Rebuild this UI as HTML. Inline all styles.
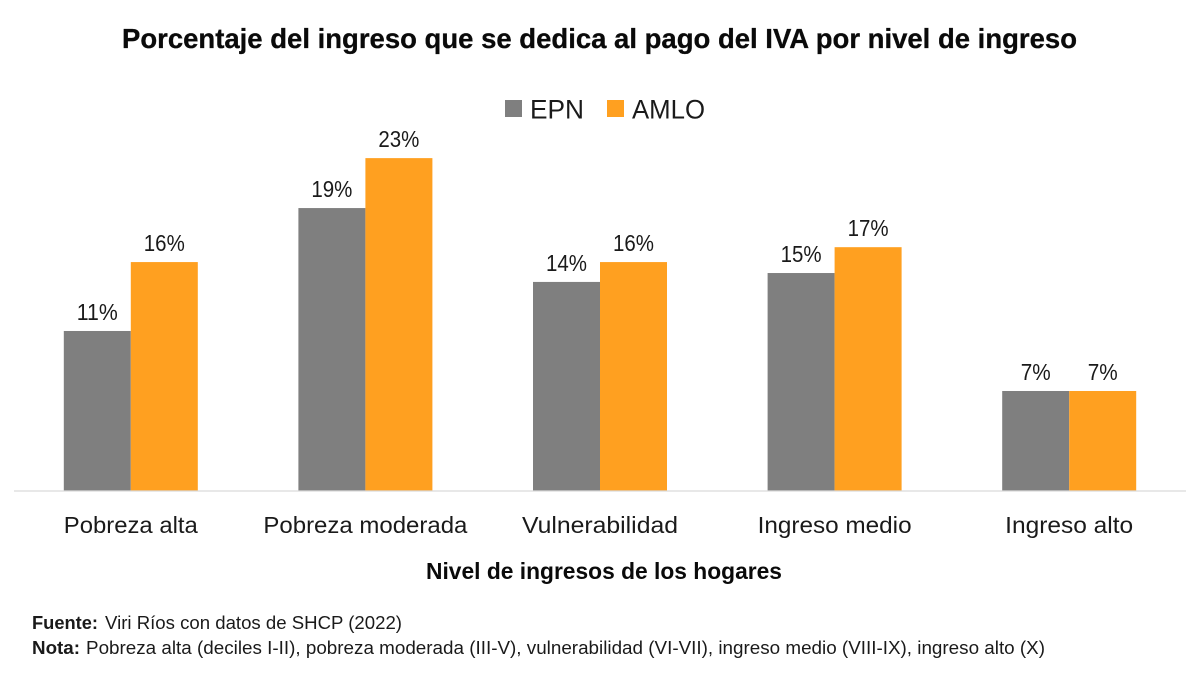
<!DOCTYPE html>
<html lang="es">
<head>
<meta charset="utf-8">
<title>Porcentaje del ingreso que se dedica al pago del IVA</title>
<style>
html,body{margin:0;padding:0;background:#fff;width:1200px;height:675px;overflow:hidden}
svg{display:block}
text{font-family:"Liberation Sans",sans-serif;fill:#1a1a1a}
</style>
</head>
<body>
<svg id="chart" width="1200" height="675" viewBox="0 0 1200 675" xmlns="http://www.w3.org/2000/svg">
  <rect width="1200" height="675" fill="#ffffff"/>
  <text x="122" y="48" font-size="28" font-weight="700" textLength="955" lengthAdjust="spacingAndGlyphs" style="fill:#0a0a0a;stroke:#0a0a0a;stroke-width:.3">Porcentaje del ingreso que se dedica al pago del IVA por nivel de ingreso</text>
  <g>
    <rect x="505" y="100" width="17" height="17" fill="#7f7f7f"/>
    <text x="530" y="118.5" font-size="27" textLength="54" lengthAdjust="spacingAndGlyphs">EPN</text>
    <rect x="607" y="100" width="17" height="17" fill="#ffa020"/>
    <text x="632" y="118.5" font-size="27" textLength="73" lengthAdjust="spacingAndGlyphs">AMLO</text>
  </g>
  <g id="bars"></g>
  <line x1="14" y1="491" x2="1186" y2="491" stroke="#d9d9d9" stroke-width="1.2"/>
  <g id="xlabels"></g>
  <text x="426" y="579" font-size="23" font-weight="700" textLength="356" lengthAdjust="spacingAndGlyphs" style="fill:#0a0a0a">Nivel de ingresos de los hogares</text>
  <text x="32" y="629" font-size="18"><tspan font-weight="700" textLength="66" lengthAdjust="spacingAndGlyphs">Fuente:</tspan><tspan x="105" textLength="297" lengthAdjust="spacingAndGlyphs">Viri Ríos con datos de SHCP (2022)</tspan></text>
  <text x="32" y="654" font-size="18"><tspan font-weight="700" textLength="48" lengthAdjust="spacingAndGlyphs">Nota:</tspan><tspan x="86" textLength="959" lengthAdjust="spacingAndGlyphs">Pobreza alta (deciles I-II), pobreza moderada (III-V), vulnerabilidad (VI-VII), ingreso medio (VIII-IX), ingreso alto (X)</tspan></text>
</svg>
<script>
const categories = ["Pobreza alta", "Pobreza moderada", "Vulnerabilidad", "Ingreso medio", "Ingreso alto"];
const epnValues = [10.96, 19.38, 14.32, 14.93, 6.85];
const amloValues = [15.68, 22.8, 15.68, 16.7, 6.85];
const categoryLabelWidths = [134, 204, 156, 154, 128];

const NS = "http://www.w3.org/2000/svg";
const plotLeft = 13.5, plotRight = 1186.5, baseline = 491, pxPerPercent = 14.6, barWidth = 67;
const xCenter = i => plotLeft + (plotRight - plotLeft) * (i + 0.5) / categories.length;
const yScale = v => baseline - v * pxPerPercent;

const barsGroup = document.getElementById("bars");
const labelsGroup = document.getElementById("xlabels");

function drawBar(i, value, offset, fill, series) {
  const x = xCenter(i) + offset;
  const r = document.createElementNS(NS, "rect");
  
  
  r.setAttribute("x", x);
  r.setAttribute("y", yScale(value));
  r.setAttribute("width", barWidth);
  r.setAttribute("height", baseline - yScale(value));
  r.setAttribute("fill", fill);
  barsGroup.appendChild(r);

  const label = Math.round(value) + "%";
  const t = document.createElementNS(NS, "text");
  
  
  t.setAttribute("x", x + barWidth / 2);
  t.setAttribute("y", yScale(value) - 11);
  t.setAttribute("text-anchor", "middle");
  t.setAttribute("font-size", "23");
  t.setAttribute("textLength", label.length === 3 ? 41 : 30);
  t.setAttribute("lengthAdjust", "spacingAndGlyphs");
  t.textContent = label;
  barsGroup.appendChild(t);
}

categories.forEach((name, i) => {
  drawBar(i, epnValues[i], -barWidth, "#7f7f7f", "epn");
  drawBar(i, amloValues[i], 0, "#ffa020", "amlo");

  const c = document.createElementNS(NS, "text");
  
  
  c.setAttribute("x", xCenter(i));
  c.setAttribute("y", 533);
  c.setAttribute("text-anchor", "middle");
  c.setAttribute("font-size", "23");
  c.setAttribute("textLength", categoryLabelWidths[i]);
  c.setAttribute("lengthAdjust", "spacingAndGlyphs");
  c.textContent = name;
  labelsGroup.appendChild(c);
});
</script>
</body>
</html>
